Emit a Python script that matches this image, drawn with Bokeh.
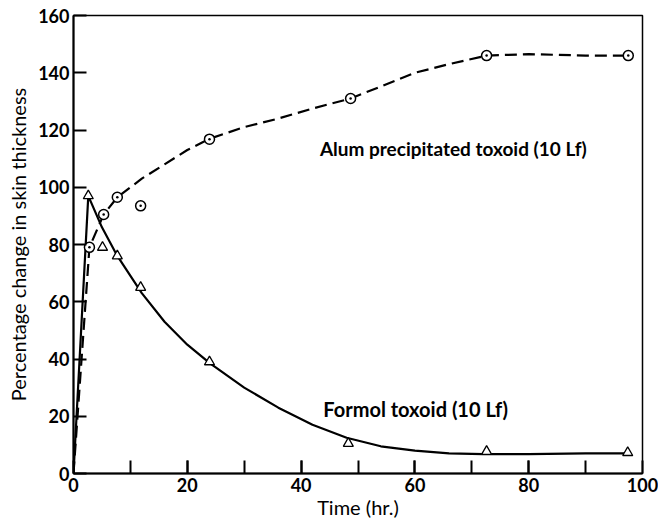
from bokeh.plotting import figure
from bokeh.models import FixedTicker, Label
from bokeh.embed import file_html
from bokeh.resources import INLINE

# Observed points
alum_t = [2.8, 5.3, 7.7, 11.8, 23.9, 48.7, 72.6, 97.5]
alum_v = [79, 90.5, 96.5, 93.5, 116.8, 131, 146, 146]
formol_t = [2.6, 5.1, 7.7, 11.8, 23.9, 48.3, 72.6, 97.4]
formol_v = [97, 79, 76, 65, 39, 10.5, 7.7, 7.3]

# Fitted curves
alum_curve_t = [0, 2.8, 5.3, 7.7, 12, 16, 20, 24, 30, 36, 42, 48.7, 55, 60, 66, 72.6, 80, 90, 97.5]
alum_curve_v = [0, 79, 90.5, 96.5, 103, 108, 113, 117, 121, 124, 127.5, 131, 136, 140, 143, 146, 146.5, 146, 146]
formol_curve_t = [0, 2.6, 5, 7.7, 12, 16, 20, 24, 30, 36, 42, 48, 54, 60, 66, 72, 80, 90, 97.5]
formol_curve_v = [0, 97, 86, 76, 63, 53, 45, 38.5, 30, 23, 17, 12.5, 9.5, 8, 7, 6.8, 6.8, 7, 7]

x_ticks = [0, 20, 40, 60, 80, 100]
x_minor = [10, 20, 30, 40, 50, 60, 70, 80, 90]
y_ticks = [0, 20, 40, 60, 80, 100, 120, 140, 160]

FONT = "Lato"

p = figure(width=658, height=521, output_backend="svg", toolbar_location=None,
           x_range=(0, 100), y_range=(0, 160),
           min_border_left=73, min_border_right=16, min_border_top=15, min_border_bottom=48)
p.grid.visible = False
p.background_fill_color = "white"
p.border_fill_color = "white"
p.outline_line_color = "black"
p.outline_line_width = 1.5

p.xaxis.ticker = FixedTicker(ticks=x_ticks, minor_ticks=x_minor)
p.yaxis.ticker = FixedTicker(ticks=y_ticks, minor_ticks=[])
for ax in (p.xaxis[0], p.yaxis[0]):
    ax.axis_line_width = 2
    ax.major_tick_in = 13
    ax.major_tick_out = 0
    ax.minor_tick_in = 13
    ax.minor_tick_out = 0
    ax.major_tick_line_width = 2
    ax.minor_tick_line_width = 2
    ax.major_label_text_font = FONT
    ax.major_label_text_font_size = "18px"
    ax.major_label_text_font_style = "bold"
    ax.major_label_text_color = "black"
    ax.axis_label_text_font = FONT
    ax.axis_label_text_font_size = "20px"
    ax.axis_label_text_font_style = "normal"
    ax.axis_label_text_color = "black"
p.yaxis.minor_tick_in = 0
p.xaxis.axis_label = "Time (hr.)"
p.yaxis.axis_label = "Percentage change in skin thickness"
p.xaxis.major_label_standoff = 4
p.yaxis.major_label_standoff = 4
p.xaxis.axis_label_standoff = 0
p.yaxis.axis_label_standoff = 5

p.line(alum_curve_t, alum_curve_v, line_color="black", line_width=2.2, line_dash="12 6")
p.line(formol_curve_t, formol_curve_v, line_color="black", line_width=2.2)

p.scatter(alum_t, alum_v, marker="circle_dot", size=10, fill_color="white",
          line_color="black", line_width=1.5)
p.scatter(formol_t, formol_v, marker="triangle", size=10, fill_color="white",
          line_color="black", line_width=1.3)

p.add_layout(Label(x=43.3, y=113.5, text="Alum precipitated toxoid (10 Lf)",
                   text_font=FONT, text_font_size="19px", text_font_style="bold",
                   text_baseline="middle", text_color="black"))
p.add_layout(Label(x=43.9, y=22.4, text="Formol toxoid (10 Lf)",
                   text_font=FONT, text_font_size="20px", text_font_style="bold",
                   text_baseline="middle", text_color="black"))

open("out.html", "w").write(file_html(p, INLINE))
